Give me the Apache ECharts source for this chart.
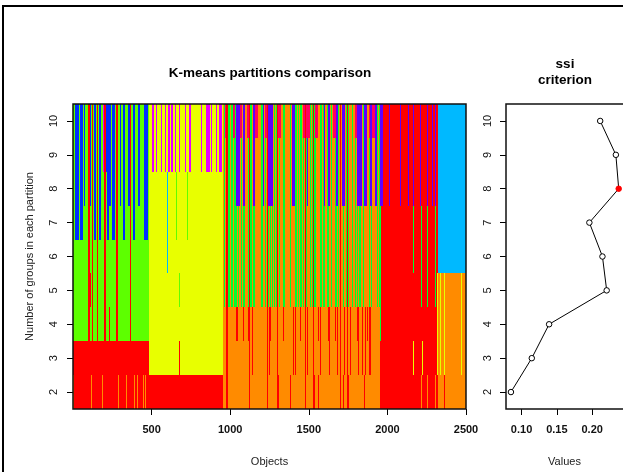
<!DOCTYPE html>
<html><head><meta charset="utf-8">
<script src="https://cdn.jsdelivr.net/npm/echarts@6/dist/echarts.min.js"></script>
<style>html,body{margin:0;padding:0;background:#fff}#c{width:623px;height:472px}</style>
</head><body><div id="c"></div>
<script>
// ---------- data ----------
const groupCounts = [2, 3, 4, 5, 6, 7, 8, 9, 10];
const objectTicks = [500, 1000, 1500, 2000, 2500];
const valueTicks = [0.10, 0.15, 0.20];
const ssiValues = [0.085, 0.1145, 0.139, 0.2205, 0.2145, 0.196, 0.2375, 0.2335, 0.2113];
const bestGroups = 8;

// group colours (letter keys used in the profiles below)
const groupColors = {
  R: '#FF0000', O: '#FF8B00', Y: '#E8FF00', G: '#5DFF00', B: '#00FF2E',
  C: '#00B9FF', U: '#002EFF', P: '#5D00FF', M: '#E800FF', K: '#FF0060'
};

// runs of objects: [first, last, colours for k = 2..10 ('.' keeps the colour below)]
const zoneBlocks = [
  [0, 481, 'RRGGGGGGG'],
  [481, 953, 'RYYYYYYYY'],
  [953, 1950, 'OOOBBBBBB'],
  [1950, 2320, 'RRRRRRRRR'],
  [2320, 2500, 'OOOOCCCCC']
];
const leftStripes = [
  [0, 5, 'O........'], [15, 37, '.....UUUU'], [47, 62, '.....UUUU'], [68, 79, '......UUU'],
  [94, 105, 'RRRRRRRRR'], [105, 111, '...R..UUU'], [111, 115, '......UUU'], [115, 120, 'O........'],
  [122, 130, 'RRRRRRRRR'], [136, 147, '.....UUUU'], [151, 160, 'RRRRRRRRR'], [168, 179, '.....UUUU'],
  [185, 190, 'O........'], [192, 200, '.......MM'], [200, 207, 'RRRRRRRRR'], [207, 213, '.......UU'],
  [215, 228, '.....UUUU'], [228, 232, '..R......'], [232, 243, '......UUU'], [249, 264, '.....UUUU'],
  [275, 285, 'RRRRRRRRR'], [289, 294, 'O........'], [296, 307, '......UUU'], [317, 330, '.....UUUU'],
  [336, 343, 'O........'], [349, 360, '......UUU'], [360, 371, 'RRRRRRRRR'], [381, 392, '.....UUUU'],
  [390, 395, 'O........'], [404, 409, 'O........'], [413, 424, '......UUU'], [443, 448, 'O........'],
  [449, 462, '.....UUUU'], [455, 460, 'O........'], [466, 477, '.....UUUU']
];
const yellowStripes = [
  [500, 513, '.......MM'], [525, 534, '.......MM'], [560, 567, '.......MM'], [587, 593, '.......MM'],
  [600, 604, '....CCC..'], [604, 615, '.......MM'], [625, 636, '.......MM'], [647, 658, '.......MM'],
  [655, 660, '.....GG..'], [672, 679, '.......MM'], [672, 677, '.R.G.....'], [710, 721, '.......MM'],
  [728, 733, '.....GG..'], [738, 753, '.......MM'], [813, 821, '.......MM'], [844, 870, '.......MM'],
  [881, 887, '.......MM'], [908, 919, '.......MM'], [929, 945, '.......MM']
];
const middleOrange = [
  [953, 959], [968, 972], [997, 1006], [1019, 1027], [1044, 1048], [1057, 1066], [1075, 1079], [1093, 1104],
  [1110, 1114], [1138, 1146], [1157, 1199], [1210, 1221], [1226, 1230], [1244, 1248], [1260, 1264],
  [1274, 1280], [1288, 1292], [1305, 1310], [1316, 1338], [1348, 1359], [1363, 1367], [1370, 1380],
  [1386, 1390], [1391, 1412], [1423, 1433], [1440, 1444], [1455, 1465], [1470, 1474], [1489, 1493],
  [1497, 1508], [1515, 1520], [1543, 1547], [1550, 1571], [1582, 1593], [1600, 1604], [1612, 1618],
  [1628, 1632], [1637, 1641], [1646, 1667], [1680, 1685], [1690, 1695], [1705, 1716], [1725, 1737],
  [1756, 1760], [1763, 1773], [1784, 1795], [1800, 1804], [1810, 1822], [1831, 1844], [1850, 1855],
  [1858, 1880], [1888, 1892], [1901, 1912], [1915, 1919], [1922, 1933], [1940, 1946]
];
const middleRedFull = [[976, 983], [1121, 1129], [1231, 1238], [1295, 1301], [1476, 1482], [1529, 1536], [1699, 1705], [1746, 1752]];
const middleRedRows34 = [[1136, 1140], [1248, 1252], [1397, 1402], [1412, 1416], [1491, 1495], [1571, 1575], [1629, 1633],
  [1678, 1682], [1725, 1729], [1759, 1763], [1810, 1814], [1837, 1841], [1858, 1862], [1880, 1884], [1890, 1898]];
const middleRedRow4 = [[1040, 1051], [1083, 1087], [1114, 1118], [1253, 1257], [1338, 1342], [1444, 1448], [1561, 1565],
  [1625, 1629], [1667, 1672], [1805, 1809], [1869, 1873]];
const middleRedRow2 = [[1303, 1307], [1380, 1384], [1533, 1537], [1561, 1566], [1720, 1724], [1752, 1756], [1848, 1852]];
const middlePurple = [[1036, 1061], [1082, 1093], [1121, 1129], [1146, 1157], [1206, 1214], [1242, 1270], [1391, 1412],
  [1486, 1493], [1595, 1605], [1625, 1635], [1674, 1686], [1710, 1731], [1805, 1837], [1848, 1869], [1890, 1901], [1922, 1933]];
const middlePink = [[965, 976], [1019, 1029], [1061, 1072], [1104, 1121], [1157, 1178], [1221, 1231], [1306, 1320],
  [1465, 1508], [1540, 1561], [1657, 1672], [1795, 1805], [1880, 1890], [1901, 1922]];
const rightStripes = [
  [1954, 1971, '......PPP'], [1950, 1956, '..BBBB...'], [2007, 2013, '......PPP'], [2080, 2086, '......PPP'],
  [2133, 2139, '......PPP'], [2161, 2166, '.Y.......'], [2165, 2170, '....BBPPP'], [2210, 2216, '......PPP'],
  [2214, 2219, 'O..BBB...'], [2222, 2227, '.Y.......'], [2250, 2255, 'O........'], [2254, 2260, '...BBBPPP'],
  [2281, 2287, '......PPP'], [2303, 2310, 'O..BBBPPP'],
  [2318, 2325, '.YYY.....'], [2333, 2337, '.YYY.....'], [2362, 2367, 'RYYY.....'], [2466, 2471, '.YYY.....']
];

// ---------- build cells ----------
const colorKeys = Object.keys(groupColors);
const cells = [];
function addRuns(runs) {
  runs.forEach(([a, b, prof]) => {
    for (let i = 0; i < prof.length; i++) {
      const ch = prof[i];
      if (ch === '.') continue;
      cells.push([a, b, groupCounts[i], colorKeys.indexOf(ch)]);
    }
  });
}
const withProfile = (runs, prof) => runs.map(r => [r[0], r[1], prof]);
addRuns(zoneBlocks);
addRuns(leftStripes);
addRuns(yellowStripes);
addRuns(withProfile(middleOrange, '...OOOOOO'));
addRuns(withProfile(middleRedRows34, '.RR......'));
addRuns(withProfile(middleRedRow4, '..R......'));
addRuns(withProfile(middleRedRow2, 'R........'));
addRuns(withProfile(middlePurple, '......PPP'));
addRuns(withProfile(middlePink, '........K'));
addRuns(withProfile(middleRedFull, 'RRRRRRRRR'));
addRuns(rightStripes);

// ---------- chart ----------
const FONT = '"Liberation Sans", Arial, Helvetica, sans-serif';
const mainGrid = { left: 73, top: 104, width: 393, height: 305 };
const sideGrid = { left: 506, top: 104, width: 118, height: 305 };

const chart = echarts.init(document.getElementById('c'), null, { renderer: 'canvas' });
const tickLab = (bold) => ({ color: '#111', fontSize: 11, fontFamily: FONT, fontWeight: bold ? 'bold' : 'normal' });

chart.setOption({
  animation: false,
  backgroundColor: '#fff',
  grid: [
    Object.assign({ show: false }, mainGrid),
    Object.assign({ show: false }, sideGrid)
  ],
  xAxis: [
    {
      gridIndex: 0, type: 'value', min: 0, max: 2500,
      name: 'Objects', nameLocation: 'middle', nameGap: 47,
      nameTextStyle: { color: '#222', fontSize: 11, fontFamily: FONT },
      axisLine: { show: false }, splitLine: { show: false },
      axisTick: { show: true, length: 6, customValues: objectTicks, lineStyle: { color: '#000' } },
      axisLabel: Object.assign({ customValues: objectTicks, margin: 15, formatter: v => String(v) }, tickLab(true))
    },
    {
      gridIndex: 1, type: 'value', min: 0.078, max: 0.2436,
      name: 'Values', nameLocation: 'middle', nameGap: 47,
      nameTextStyle: { color: '#222', fontSize: 11, fontFamily: FONT },
      axisLine: { show: false }, splitLine: { show: false },
      axisTick: { show: true, length: 6, customValues: valueTicks, lineStyle: { color: '#000' } },
      axisLabel: Object.assign({ customValues: valueTicks, margin: 15, formatter: v => v.toFixed(2) }, tickLab(true))
    }
  ],
  yAxis: [
    {
      gridIndex: 0, type: 'value', min: 1.5, max: 10.5,
      name: 'Number of groups in each partition', nameLocation: 'middle', nameGap: 38, nameRotate: 90,
      nameTextStyle: { color: '#222', fontSize: 11, fontFamily: FONT },
      axisLine: { show: false }, splitLine: { show: false },
      axisTick: { show: true, length: 6, customValues: groupCounts, lineStyle: { color: '#000' } },
      axisLabel: Object.assign({ customValues: groupCounts, rotate: 90, margin: 14, formatter: v => String(v) }, tickLab(false))
    },
    {
      gridIndex: 1, type: 'value', min: 1.5, max: 10.5,
      axisLine: { show: false }, splitLine: { show: false },
      axisTick: { show: true, length: 6, customValues: groupCounts, lineStyle: { color: '#000' } },
      axisLabel: Object.assign({ customValues: groupCounts, rotate: 90, margin: 13, formatter: v => String(v) }, tickLab(false))
    }
  ],
  series: [
    {
      type: 'custom', xAxisIndex: 0, yAxisIndex: 0, clip: true,
      progressive: 0,
      encode: { x: [0, 1], y: 2 },
      data: cells,
      renderItem: function (params, api) {
        const a = api.value(0), b = api.value(1), k = api.value(2);
        const p0 = api.coord([a, k + 0.5]);
        const p1 = api.coord([b, k - 0.5]);
        let x0 = Math.round(p0[0]), x1 = Math.round(p1[0]);
        if (x1 <= x0) x1 = x0 + 1;
        const y0 = Math.round(p0[1]), y1 = Math.round(p1[1]);
        return {
          type: 'rect',
          shape: { x: x0, y: y0, width: x1 - x0, height: y1 - y0 },
          style: { fill: groupColors[colorKeys[api.value(3)]] }
        };
      }
    },
    {
      type: 'line', xAxisIndex: 1, yAxisIndex: 1,
      data: ssiValues.map((v, i) => ({
        value: [v, groupCounts[i]],
        itemStyle: groupCounts[i] === bestGroups
          ? { color: '#FF0000', borderColor: '#FF0000', borderWidth: 1 }
          : { color: '#fff', borderColor: '#000', borderWidth: 1 }
      })),
      symbol: 'circle', symbolSize: 5.5, showAllSymbol: true,
      lineStyle: { color: '#000', width: 1 },
      z: 5
    }
  ],
  graphic: [
    { type: 'rect', z: 100, silent: true,
      shape: { x: 3, y: 6, width: 700, height: 600 },
      style: { fill: null, stroke: '#000', lineWidth: 2 } },
    { type: 'rect', z: 100, silent: true,
      shape: { x: mainGrid.left, y: mainGrid.top, width: mainGrid.width, height: mainGrid.height },
      style: { fill: null, stroke: '#111', lineWidth: 1.5 } },
    { type: 'rect', z: 100, silent: true,
      shape: { x: sideGrid.left, y: sideGrid.top, width: sideGrid.width, height: sideGrid.height },
      style: { fill: null, stroke: '#111', lineWidth: 1.5 } },
    { type: 'text', z: 100, x: 270, y: 73,
      style: { text: 'K-means partitions comparison', font: 'bold 13.5px ' + FONT, fill: '#000', textAlign: 'center', textVerticalAlign: 'middle' } },
    { type: 'text', z: 100, x: 565, y: 64,
      style: { text: 'ssi', font: 'bold 13.5px ' + FONT, fill: '#000', textAlign: 'center', textVerticalAlign: 'middle' } },
    { type: 'text', z: 100, x: 565, y: 80,
      style: { text: 'criterion', font: 'bold 13.5px ' + FONT, fill: '#000', textAlign: 'center', textVerticalAlign: 'middle' } }
  ]
});
</script>
</body></html>
